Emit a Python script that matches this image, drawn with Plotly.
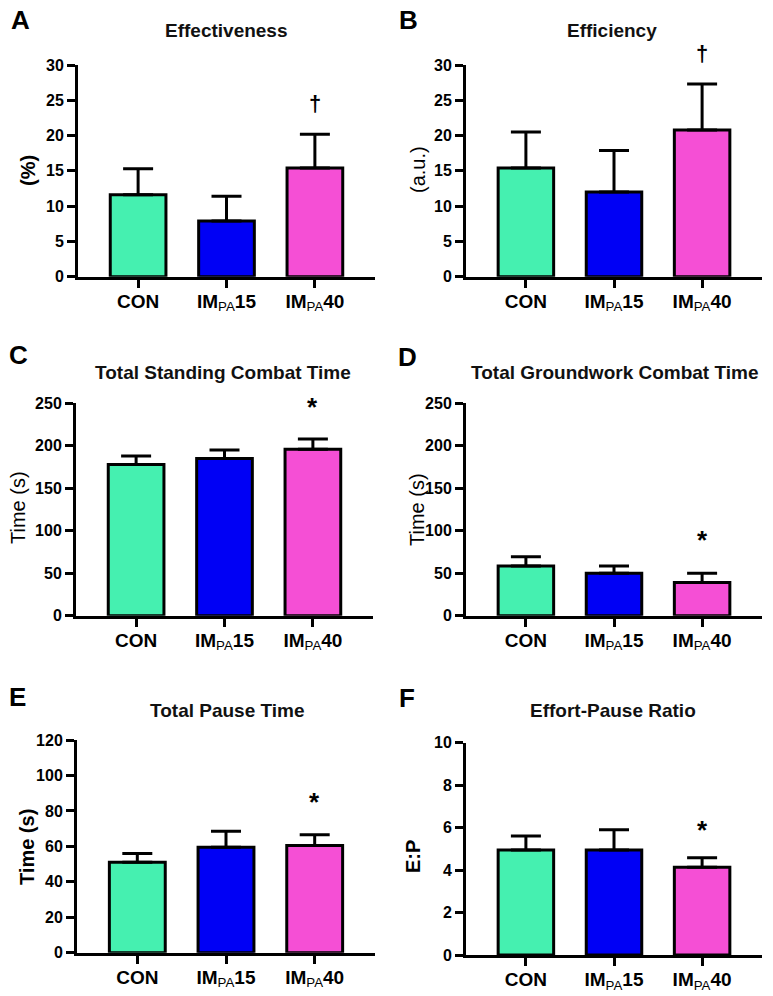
import plotly.graph_objects as go

W, H = 773, 996

groups = ["CON", "IM15", "IM40"]
group_labels = ["<b>CON</b>", "<b>IM</b><sub>PA</sub><b>15</b>", "<b>IM</b><sub>PA</sub><b>40</b>"]
colors = ["#45F0B0", "#0000F5", "#F54FD5"]

effectiveness_mean = [11.6, 7.9, 15.4]
effectiveness_sd = [3.7, 3.5, 4.8]
efficiency_mean = [15.4, 12.0, 20.8]
efficiency_sd = [5.1, 5.9, 6.5]
standing_mean = [178, 185, 196]
standing_sd = [10, 10, 12]
groundwork_mean = [58.5, 50, 39]
groundwork_sd = [11, 8.5, 11]
pause_mean = [51, 59.5, 60.5]
pause_sd = [5, 9, 6]
ep_mean = [4.95, 4.95, 4.13]
ep_sd = [0.65, 0.95, 0.45]

titles = ["Effectiveness", "Efficiency", "Total Standing Combat Time",
          "Total Groundwork Combat Time", "Total Pause Time", "Effort-Pause Ratio"]
letters = ["A", "B", "C", "D", "E", "F"]
y_titles = ["(%)", "(a.u.)", "Time (s)", "Time (s)", "Time (s)", "E:P"]
y_title_bold = [True, False, False, False, True, True]
y_max = [30, 30, 250, 250, 120, 10]
y_dtick = [5, 5, 50, 50, 20, 2]
sig_symbol = ["†", "†", "*", "*", "*", "*"]
sig_y = [24.5, 31.7, 246, 89, 85, 5.9]

means = [effectiveness_mean, efficiency_mean, standing_mean, groundwork_mean, pause_mean, ep_mean]
sds = [effectiveness_sd, efficiency_sd, standing_sd, groundwork_sd, pause_sd, ep_sd]

# layout in pixels: (x_left, x_right, y_top, y_bottom)
boxes = [(78, 375, 65, 276.7), (466, 762, 65, 276.7),
         (76, 373, 403.3, 615.7), (466, 762, 403.3, 615.7),
         (77, 375, 740, 952.7), (466, 762, 742.7, 955)]
title_pos = [(226, 30), (612, 30), (223, 372), (614, 372), (227, 710), (613, 710)]
letter_pos = [(9, 20), (397, 20), (7, 355), (396, 357), (7, 697), (397, 698)]
ytitle_pos = [(28, 170), (418, 170), (18, 508), (417, 510), (27, 847), (413, 857)]

FONT = "Arial, Liberation Sans, sans-serif"

def px(x):
    return x / W

def py(y):
    return 1 - y / H

fig = go.Figure()
annotations = []
for i in range(6):
    ax = "" if i == 0 else str(i + 1)
    xl, xr, yt, yb = boxes[i]
    fig.add_trace(go.Bar(
        x=[0, 1, 2], y=means[i],
        marker=dict(color=colors, line=dict(color="black", width=3)),
        width=0.63,
        error_y=dict(type="data", symmetric=False, array=sds[i], arrayminus=[0, 0, 0],
                     color="black", thickness=3, width=15),
        xaxis="x" + ax, yaxis="y" + ax, showlegend=False, hoverinfo="skip",
    ))
    fig.layout["xaxis" + ax] = dict(
        domain=[px(xl), px(xr)], anchor="y" + ax, range=[-0.68, 2.68],
        tickmode="array", tickvals=[0, 1, 2], ticktext=group_labels,
        showline=True, linecolor="black", linewidth=3,
        ticks="outside", ticklen=8, tickwidth=3, tickcolor="black",
        ticklabelstandoff=-3,
        tickfont=dict(family=FONT, size=19, color="black"),
        showgrid=False, zeroline=False, fixedrange=True, automargin=False,
    )
    fig.layout["yaxis" + ax] = dict(
        domain=[py(yb), py(yt)], anchor="x" + ax, range=[0, y_max[i]],
        tick0=0, dtick=y_dtick[i],
        showline=True, linecolor="black", linewidth=3,
        ticks="outside", ticklen=8, tickwidth=3, tickcolor="black",
        tickfont=dict(family=FONT, size=16, color="black", weight="bold"),
        showgrid=False, zeroline=False, fixedrange=True, automargin=False,
    )
    tx, ty = title_pos[i]
    annotations.append(dict(text="<b>" + titles[i] + "</b>", x=px(tx), y=py(ty),
                            xref="paper", yref="paper", showarrow=False,
                            xanchor="center", yanchor="middle",
                            font=dict(family=FONT, size=19, color="#111")))
    lx, ly = letter_pos[i]
    annotations.append(dict(text="<b>" + letters[i] + "</b>", x=px(lx), y=py(ly),
                            xref="paper", yref="paper", showarrow=False,
                            xanchor="left", yanchor="middle",
                            font=dict(family=FONT, size=26, color="black")))
    yx, yy = ytitle_pos[i]
    yt_text = ("<b>" + y_titles[i] + "</b>") if y_title_bold[i] else y_titles[i]
    annotations.append(dict(text=yt_text, x=px(yx), y=py(yy),
                            xref="paper", yref="paper", showarrow=False,
                            xanchor="center", yanchor="middle", textangle=-90,
                            font=dict(family=FONT, size=20, color="black")))
    annotations.append(dict(text="<b>" + sig_symbol[i] + "</b>", x=2,
                            y=sig_y[i] / y_max[i],
                            xref="x" + ax, yref="y" + ax + " domain", showarrow=False,
                            xanchor="center", yanchor="middle",
                            font=dict(family=FONT, size=26 if sig_symbol[i] == "*" else 22,
                                      color="black")))

fig.update_layout(
    width=W, height=H, margin=dict(l=0, r=0, t=0, b=0, pad=0, autoexpand=False),
    paper_bgcolor="white", plot_bgcolor="white",
    annotations=annotations, bargap=0.3,
)

fig.write_html("out.html", config={"displayModeBar": False},
               post_script="document.body.style.margin='0';document.body.style.overflow='hidden';")
